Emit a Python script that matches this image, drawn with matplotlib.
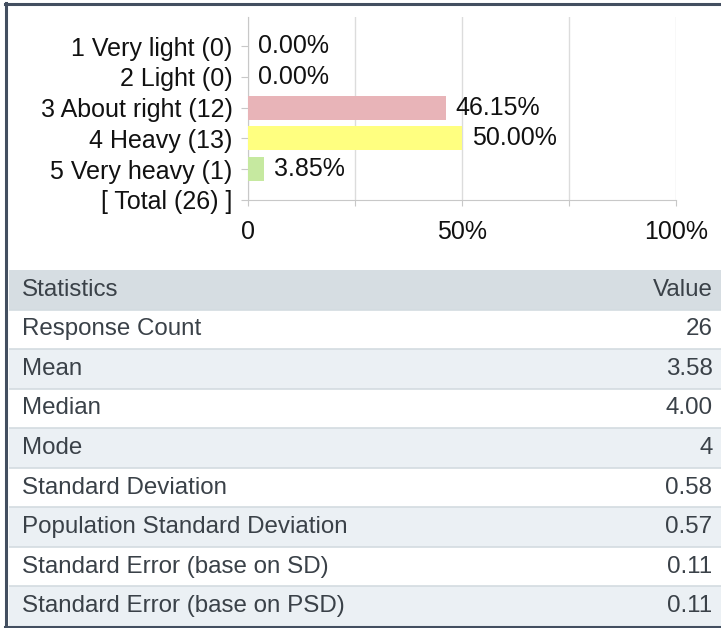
import matplotlib
matplotlib.use("Agg")
import matplotlib.pyplot as plt
from matplotlib.patches import Rectangle
from matplotlib.lines import Line2D

# ---- data ----
categories = ["1 Very light (0)", "2 Light (0)", "3 About right (12)",
              "4 Heavy (13)", "5 Very heavy (1)", "[ Total (26) ]"]
percents = [0.00, 0.00, 46.15, 50.00, 3.85]
bar_colors = ["#e8b4b8", "#e8b4b8", "#e8b4b8", "#ffff80", "#c6e9a0"]
x_ticks = [0, 25, 50, 75, 100]
x_tick_labels = ["0", "", "50%", "", "100%"]

stat_header = ["Statistics", "Value"]
stat_names = ["Response Count", "Mean", "Median", "Mode", "Standard Deviation",
              "Population Standard Deviation", "Standard Error (base on SD)",
              "Standard Error (base on PSD)"]
stat_values = ["26", "3.58", "4.00", "4", "0.58", "0.57", "0.11", "0.11"]

W, H = 721, 628
fig = plt.figure(figsize=(W / 100, H / 100), dpi=100)
fig.patch.set_facecolor("white")

def fx(px):
    return px / W

def fy(py):
    return 1 - py / H

chart_font = ["Liberation Sans", "DejaVu Sans"]
table_font = ["Liberation Sans", "DejaVu Sans"]
CFS = 18.0
TFS = 17.4

# ---- bar chart ----
ax = fig.add_axes([fx(248), fy(200), fx(676) - fx(248), fy(17) - fy(200)])
ypos = list(range(len(categories)))
ax.barh(ypos[:len(percents)], percents, height=0.78, color=bar_colors, zorder=3)
for y, p in zip(ypos, percents):
    ax.text(p + 2.3, y, f"{p:.2f}%", va="center", ha="left", fontsize=CFS,
            family=chart_font, color="#111111", zorder=4)
ax.set_xlim(0, 100)
ax.set_ylim(5.0, -0.95)
ax.set_yticks(ypos)
ax.set_yticklabels(categories, family=chart_font, fontsize=CFS, color="#111111")
ax.set_xticks(x_ticks)
ax.set_xticklabels(x_tick_labels, family=chart_font, fontsize=CFS, color="#111111")
ax.grid(axis="x", color="#dcdcdc", linewidth=1, zorder=0)
for s in ["top", "right"]:
    ax.spines[s].set_visible(False)
ax.spines["left"].set_color("#c8c8c8")
ax.spines["bottom"].set_color("#c8c8c8")
ax.tick_params(axis="y", length=5, color="#c8c8c8", pad=6)
ax.tick_params(axis="x", length=4, color="#c8c8c8", pad=10.5)

# ---- statistics table ----
tax = fig.add_axes([fx(9), fy(626), 1 - fx(9), fy(270) - fy(626)])
nrows = len(stat_names) + 1
tax.set_xlim(0, 1)
tax.set_ylim(nrows, 0)
tax.axis("off")
tax.add_patch(Rectangle((0, 0), 1, 1, facecolor="#d6dde2", edgecolor="none"))
tax.text(0.018, 0.5, stat_header[0], va="center", ha="left", fontsize=TFS,
         family=table_font, color="#3a4148")
tax.text(0.988, 0.5, stat_header[1], va="center", ha="right", fontsize=TFS,
         family=table_font, color="#3a4148")
for i, (n, v) in enumerate(zip(stat_names, stat_values)):
    r = i + 1
    fc = "#ffffff" if i % 2 == 0 else "#ebf0f4"
    tax.add_patch(Rectangle((0, r), 1, 1, facecolor=fc, edgecolor="none"))
    tax.plot([0, 1], [r, r], color="#d3dbe0", linewidth=1.2)
    tax.text(0.018, r + 0.5, n, va="center", ha="left", fontsize=TFS,
             family=table_font, color="#3a4148")
    tax.text(0.988, r + 0.5, v, va="center", ha="right", fontsize=TFS,
             family=table_font, color="#3a4148")

# ---- outer frame (left, top, bottom) ----
border = "#434f60"
fig.add_artist(Line2D([fx(6), fx(6)], [fy(3), fy(627)], color=border, linewidth=2.2,
                      transform=fig.transFigure))
fig.add_artist(Line2D([fx(5), 1], [fy(4), fy(4)], color=border, linewidth=2.2,
                      transform=fig.transFigure))
fig.add_artist(Line2D([fx(5), 1], [fy(627), fy(627)], color=border, linewidth=2.2,
                      transform=fig.transFigure))

fig.savefig("out.png", dpi=100, facecolor="white")
